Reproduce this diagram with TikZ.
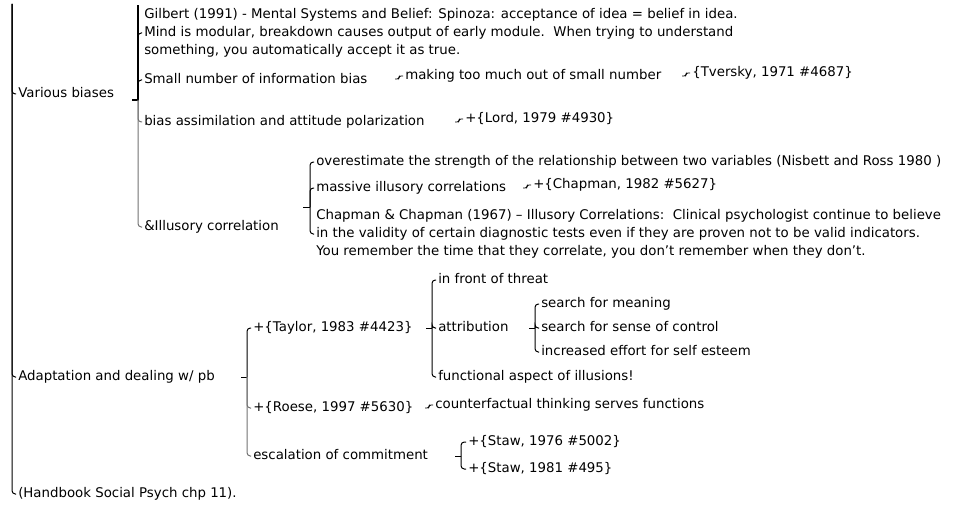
\documentclass[tikz,border=0pt]{standalone}
\usepackage{fontspec}
\setmainfont{DejaVu Sans}
\usepackage{tikz}

\begin{document}
\begin{tikzpicture}[
		x = 0.75pt, y = -0.75pt,
		every node/.style = {anchor = west, inner xsep = 1.5pt, inner ysep = 0pt,
			font = \fontsize{10}{13.5}\selectfont},
		oneline/.style = {text height = 7pt, text depth = 2pt},
		block/.style = {align = left},
		branch/.style = {line width = .75pt, rounded corners = 2.5pt},
		stubline/.style = {line width = 1.5pt},
		faint/.style = {branch, draw = black!55},
		linkline/.style = {line width = .6pt, rounded corners = 1.5pt}
		]
		\fill[white] (0,0) rectangle (962,506);
		\useasboundingbox (0,0) rectangle (962,506);
		
		% root level
		\coordinate (root) at (12,4);
		\node[oneline] (vb) at (16,94) {Various biases};
		\node[oneline] (adapt) at (16,377) {Adaptation and dealing w/ pb};
		\node[oneline] (hb) at (16,494) {(Handbook Social Psych chp 11).};
		\foreach \n in {vb, adapt, hb}
			\draw[branch] (root) |- (\n.west);
		
		% Various biases
		\coordinate (vbS) at (132,100);
		\coordinate (vbB) at (138,100);
		\draw[stubline] (vbS) -- (vbB) -- (138,5);
		\node[block] (gil) at (142,33) {Gilbert (1991) - Mental Systems and Belief: Spinoza: acceptance of idea = belief in idea.\\
			Mind is modular, breakdown causes output of early module.\ \ When trying to understand\\
			something, you automatically accept it as true.};
		\node[oneline] (small) at (142,80) {Small number of information bias};
		\node[oneline] (assim) at (142,122) {bias assimilation and attitude polarization};
		\node[oneline] (illu) at (142,227) {\&Illusory correlation};
		\foreach \n in {gil, small}
			\draw[branch] (vbB) |- (\n.west);
		\foreach \n in {assim, illu}
			\draw[faint] (vbB) |- (\n.west);
		
		\node[oneline] (making) at (403,76) {making too much out of small number};
		\node[oneline] (tversky) at (690,73) {\{Tversky, 1971 \#4687\}};
		\node[oneline] (lord) at (463,119) {+\{Lord, 1979 \#4930\}};
		
		% Illusory correlation
		\coordinate (ilS) at (303,207);
		\coordinate (ilB) at (310,207);
		\draw[branch] (ilS) -- (ilB);
		\node[oneline] (over) at (314,162) {overestimate the strength of the relationship between two variables (Nisbett and Ross 1980 )};
		\node[oneline] (massive) at (314,188) {massive illusory correlations};
		\node[block] (chap67) at (314,234) {Chapman \& Chapman (1967) – Illusory Correlations:\ \ Clinical psychologist continue to believe\\
			in the validity of certain diagnostic tests even if they are proven not to be valid indicators.\\
			You remember the time that they correlate, you don’t remember when they don’t.};
		\foreach \n in {over, massive, chap67}
			\draw[branch] (ilB) |- (\n.west);
		\node[oneline] (chap82) at (531,185) {+\{Chapman, 1982 \#5627\}};
		
		% Adaptation
		\coordinate (adS) at (241,377);
		\coordinate (adB) at (247,377);
		\draw[branch] (adS) -- (adB);
		\node[oneline] (taylor) at (251,328) {+\{Taylor, 1983 \#4423\}};
		\node[oneline] (roese) at (251,408) {+\{Roese, 1997 \#5630\}};
		\node[oneline] (escal) at (251,456) {escalation of commitment};
		\draw[branch] (adB) |- (taylor.west);
		\foreach \n in {roese, escal}
			\draw[faint] (adB) |- (\n.west);
		
		% Taylor
		\coordinate (tyS) at (426,328);
		\coordinate (tyB) at (432,328);
		\draw[branch] (tyS) -- (tyB);
		\node[oneline] (threat) at (436,280) {in front of threat};
		\node[oneline] (attrib) at (436,328) {attribution};
		\node[oneline] (illus) at (436,377) {functional aspect of illusions!};
		\foreach \n in {threat, attrib, illus}
			\draw[branch] (tyB) |- (\n.west);
		
		\coordinate (atS) at (529,328);
		\coordinate (atB) at (535,328);
		\draw[branch] (atS) -- (atB);
		\node[oneline] (meaning) at (539,304) {search for meaning};
		\node[oneline] (control) at (539,328) {search for sense of control};
		\node[oneline] (esteem) at (539,352) {increased effort for self esteem};
		\foreach \n in {meaning, control, esteem}
			\draw[branch] (atB) |- (\n.west);
		
		\node[oneline] (counter) at (433,405) {counterfactual thinking serves functions};
		
		% escalation
		\coordinate (esS) at (455,456);
		\coordinate (esB) at (461,456);
		\draw[branch] (esS) -- (esB);
		\node[oneline] (staw76) at (466,442) {+\{Staw, 1976 \#5002\}};
		\node[oneline] (staw81) at (466,469) {+\{Staw, 1981 \#495\}};
		\foreach \n in {staw76, staw81}
			\draw[branch] (esB) |- (\n.west);
		
		% single links
		\foreach \n in {making, tversky, lord, chap82, counter}
			\draw[linkline] (\n.west) ++(-8,3) -- ++(4,0) |- (\n.west);
	\end{tikzpicture}
\end{document}
